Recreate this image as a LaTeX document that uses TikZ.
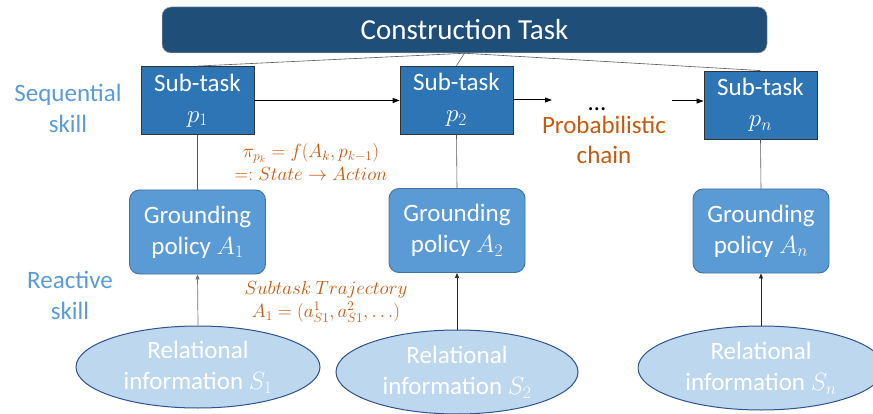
\documentclass[tikz,border=0pt]{standalone}
\usepackage{fix-cm}
\usepackage{fontspec}
\setmainfont{Carlito}
\usetikzlibrary{shapes.geometric,arrows.meta}
\definecolor{ctask}{HTML}{1F4E79}
\definecolor{subc}{HTML}{2E75B6}
\definecolor{gpol}{HTML}{5B9BD5}
\definecolor{gpolb}{HTML}{41719C}
\definecolor{relc}{HTML}{BDD7EE}
\definecolor{relb}{HTML}{2F528F}
\definecolor{orng}{HTML}{C55A11}
\definecolor{sidec}{HTML}{5B9BD5}
\begin{document}
\begin{tikzpicture}[x=1pt,y=-1pt,
  font=\fontsize{25}{31}\selectfont,
  taskbox/.style={fill=ctask, draw=black!35, line width=0.5pt, rounded corners=9pt, minimum width=605pt, minimum height=46pt, text=white, inner sep=0pt, font=\fontsize{29}{34}\selectfont},
  subtask/.style={draw=black!80, line width=0.8pt, fill=subc, text=white, minimum width=113pt, minimum height=68pt, align=center, inner sep=0pt},
  ground/.style={draw=gpolb, line width=0.9pt, fill=gpol, text=white, rounded corners=10pt, minimum width=136pt, minimum height=84pt, align=center, inner sep=0pt},
  relell/.style={ellipse, draw=relb, line width=1pt, fill=relc, inner sep=0pt},
  reltext/.style={text=white, align=center, inner sep=0pt},
  sidelbl/.style={text=sidec, align=center, inner sep=0pt},
  problbl/.style={text=orng, align=center, inner sep=0pt, font=\fontsize{25}{30}\selectfont},
  mathlbl/.style={text=orng, align=center, inner sep=0pt, font=\fontsize{19}{23}\selectfont},
  conn/.style={draw=black!65, line width=0.6pt},
  upar/.style={draw=black!85, line width=0.7pt, -{Triangle[length=5pt,width=4pt]}},
  chainar/.style={draw=black, line width=1pt, -{Triangle[length=7pt,width=5pt]}}
]
\useasboundingbox (0,0) rectangle (873,414);
\clip (0,0) rectangle (873,414);

% top task
\node[taskbox] (task) at (464.5,30) {Construction Task};

% sub-tasks
\node[subtask] (p1) at (197.5,100.5) {Sub-task\\$p_1$};
\node[subtask] (p2) at (456.5,100) {Sub-task\\$p_2$};
\node[subtask] (pn) at (760.5,105) {Sub-task\\$p_n$};

% grounding policies
\node[ground] (A1) at (197.5,232) {Grounding\\policy $A_1$};
\node[ground] (A2) at (457,230.5) {Grounding\\policy $A_2$};
\node[ground] (An) at (761,231) {Grounding\\policy $A_n$};

% relational information ellipses
\node[relell, minimum width=244pt, minimum height=82pt] (S1) at (198,367) {};
\node[relell, minimum width=242pt, minimum height=84pt] (S2) at (457,372) {};
\node[relell, minimum width=246pt, minimum height=84pt] (Sn) at (761,368) {};
\node[reltext] (S1t) at (S1) {Relational\\information $S_1$};
\node[reltext] (S2t) at (S2) {Relational\\information $S_2$};
\node[reltext] (Snt) at (Sn) {Relational\\information $S_n$};

% side labels
\node[sidelbl] (seq) at (68,108.5) {Sequential\\skill};
\node[sidelbl] (rea) at (70,295) {Reactive\\skill};

% chain
\node[inner sep=0pt] (dots) at (597,109) {\ldots};
\coordinate (chainL) at (552,100);
\coordinate (chainR) at (672,101);
\node[problbl] (prob) at (604,140) {Probabilistic\\chain};

% orange math labels
\node[mathlbl] (pilbl) at (311,162) {$\pi_{p_k}=f(A_k,p_{k-1})$\\$=:State\rightarrow Action$};
\node[mathlbl] (trajlbl) at (326,302) {$Subtask\ Trajectory$\\$A_1=(a_{S1}^1,a_{S1}^2,\ldots)$};

% connectors
\draw[conn] (task.south) -- (p1.north);
\draw[conn] (task.south) -- (p2.north);
\draw[conn] (task.south) -- (pn.north);

\draw[chainar] (p1.east) -- (p1.east -| p2.west);
\draw[chainar] (p2.east) -- (chainL);
\draw[chainar] (chainR) -- (chainR -| pn.west);

\draw[conn] (p1.south) -- (A1.north);
\draw[conn] (p2.south) -- (A2.north);
\draw[conn] (pn.south) -- (An.north);

\draw[upar, draw=black!55] (S1.north) -- (A1.south);
\draw[upar] (S2.north) -- (A2.south);
\draw[upar] (Sn.north) -- (An.south);
\end{tikzpicture}
\end{document}
